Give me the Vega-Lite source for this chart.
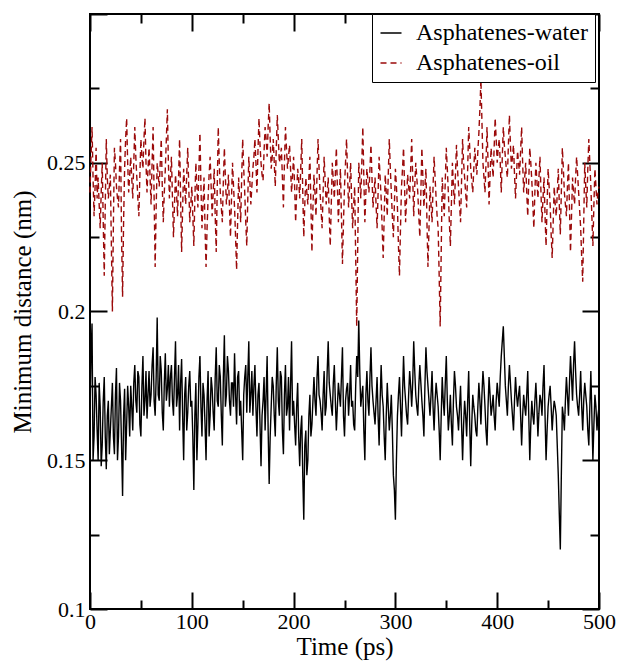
{
  "$schema": "https://vega.github.io/schema/vega-lite/v6.json",
  "width": 509,
  "height": 595,
  "autosize": {"type": "none"},
  "padding": {"left": 90, "top": 14, "right": 21, "bottom": 55},
  "background": "white",
  "config": {
    "font": "'Liberation Serif', 'DejaVu Serif', serif",
    "view": {"stroke": "black", "strokeWidth": 2},
    "axis": {
      "grid": false,
      "domain": false,
      "tickColor": "black",
      "tickWidth": 2,
      "labelColor": "black",
      "titleColor": "black",
      "labelFont": "'Liberation Serif', 'DejaVu Serif', serif",
      "titleFont": "'Liberation Serif', 'DejaVu Serif', serif",
      "labelFontSize": 22,
      "titleFontSize": 25,
      "titleFontWeight": "normal",
      "labelFlush": false,
      "labelOverlap": false
    },
    "legend": {
      "labelFont": "'Liberation Serif', 'DejaVu Serif', serif",
      "labelFontSize": 24,
      "labelColor": "black",
      "labelLimit": 400
    }
  },
  "data": {
    "values": [
      {"t":0,"water":0.165,"oil":0.240},{"t":2,"water":0.196,"oil":0.262},{"t":4,"water":0.158,"oil":0.232},{"t":6,"water":0.172,"oil":0.255},{"t":8,"water":0.150,"oil":0.245},{"t":10,"water":0.168,"oil":0.228},{"t":12,"water":0.155,"oil":0.250},{"t":14,"water":0.178,"oil":0.212},{"t":16,"water":0.147,"oil":0.258},{"t":18,"water":0.170,"oil":0.238},
      {"t":20,"water":0.160,"oil":0.246},{"t":22,"water":0.176,"oil":0.200},{"t":24,"water":0.152,"oil":0.255},{"t":26,"water":0.181,"oil":0.242},{"t":28,"water":0.158,"oil":0.235},{"t":30,"water":0.170,"oil":0.258},{"t":32,"water":0.138,"oil":0.205},{"t":34,"water":0.174,"oil":0.248},{"t":36,"water":0.162,"oil":0.265},{"t":38,"water":0.168,"oil":0.240},
      {"t":40,"water":0.175,"oil":0.252},{"t":42,"water":0.160,"oil":0.238},{"t":44,"water":0.182,"oil":0.262},{"t":46,"water":0.166,"oil":0.245},{"t":48,"water":0.178,"oil":0.232},{"t":50,"water":0.158,"oil":0.258},{"t":52,"water":0.185,"oil":0.248},{"t":54,"water":0.170,"oil":0.265},{"t":56,"water":0.164,"oil":0.240},{"t":58,"water":0.180,"oil":0.255},
      {"t":60,"water":0.172,"oil":0.236},{"t":62,"water":0.188,"oil":0.262},{"t":64,"water":0.165,"oil":0.215},{"t":66,"water":0.198,"oil":0.250},{"t":68,"water":0.170,"oil":0.242},{"t":70,"water":0.180,"oil":0.258},{"t":72,"water":0.160,"oil":0.230},{"t":74,"water":0.186,"oil":0.248},{"t":76,"water":0.174,"oil":0.268},{"t":78,"water":0.168,"oil":0.238},
      {"t":80,"water":0.182,"oil":0.252},{"t":82,"water":0.165,"oil":0.225},{"t":84,"water":0.190,"oil":0.246},{"t":86,"water":0.172,"oil":0.232},{"t":88,"water":0.160,"oil":0.258},{"t":90,"water":0.184,"oil":0.220},{"t":92,"water":0.150,"oil":0.248},{"t":94,"water":0.178,"oil":0.236},{"t":96,"water":0.166,"oil":0.255},{"t":98,"water":0.180,"oil":0.230},
      {"t":100,"water":0.170,"oil":0.242},{"t":102,"water":0.140,"oil":0.222},{"t":104,"water":0.176,"oil":0.250},{"t":106,"water":0.162,"oil":0.235},{"t":108,"water":0.185,"oil":0.260},{"t":110,"water":0.158,"oil":0.228},{"t":112,"water":0.172,"oil":0.245},{"t":114,"water":0.150,"oil":0.215},{"t":116,"water":0.180,"oil":0.238},{"t":118,"water":0.165,"oil":0.252},
      {"t":120,"water":0.174,"oil":0.232},{"t":122,"water":0.160,"oil":0.248},{"t":124,"water":0.188,"oil":0.220},{"t":126,"water":0.168,"oil":0.262},{"t":128,"water":0.178,"oil":0.240},{"t":130,"water":0.155,"oil":0.230},{"t":132,"water":0.192,"oil":0.255},{"t":134,"water":0.172,"oil":0.236},{"t":136,"water":0.180,"oil":0.246},{"t":138,"water":0.165,"oil":0.225},
      {"t":140,"water":0.176,"oil":0.250},{"t":142,"water":0.186,"oil":0.235},{"t":144,"water":0.162,"oil":0.214},{"t":146,"water":0.180,"oil":0.245},{"t":148,"water":0.170,"oil":0.230},{"t":150,"water":0.150,"oil":0.258},{"t":152,"water":0.178,"oil":0.240},{"t":154,"water":0.166,"oil":0.222},{"t":156,"water":0.190,"oil":0.252},{"t":158,"water":0.172,"oil":0.236},
      {"t":160,"water":0.165,"oil":0.248},{"t":162,"water":0.182,"oil":0.258},{"t":164,"water":0.158,"oil":0.240},{"t":166,"water":0.176,"oil":0.265},{"t":168,"water":0.148,"oil":0.250},{"t":170,"water":0.170,"oil":0.244},{"t":172,"water":0.160,"oil":0.262},{"t":174,"water":0.185,"oil":0.252},{"t":176,"water":0.142,"oil":0.270},{"t":178,"water":0.168,"oil":0.248},
      {"t":180,"water":0.175,"oil":0.258},{"t":182,"water":0.158,"oil":0.242},{"t":184,"water":0.188,"oil":0.266},{"t":186,"water":0.165,"oil":0.250},{"t":188,"water":0.178,"oil":0.255},{"t":190,"water":0.152,"oil":0.235},{"t":192,"water":0.182,"oil":0.262},{"t":194,"water":0.168,"oil":0.248},{"t":196,"water":0.160,"oil":0.256},{"t":198,"water":0.190,"oil":0.240},
      {"t":200,"water":0.170,"oil":0.252},{"t":202,"water":0.155,"oil":0.230},{"t":204,"water":0.176,"oil":0.248},{"t":206,"water":0.148,"oil":0.238},{"t":208,"water":0.165,"oil":0.258},{"t":210,"water":0.130,"oil":0.225},{"t":212,"water":0.160,"oil":0.245},{"t":214,"water":0.150,"oil":0.236},{"t":216,"water":0.172,"oil":0.252},{"t":218,"water":0.162,"oil":0.220},
      {"t":220,"water":0.178,"oil":0.246},{"t":222,"water":0.165,"oil":0.232},{"t":224,"water":0.185,"oil":0.258},{"t":226,"water":0.170,"oil":0.240},{"t":228,"water":0.160,"oil":0.228},{"t":230,"water":0.180,"oil":0.252},{"t":232,"water":0.168,"oil":0.236},{"t":234,"water":0.190,"oil":0.245},{"t":236,"water":0.172,"oil":0.222},{"t":238,"water":0.165,"oil":0.250},
      {"t":240,"water":0.182,"oil":0.238},{"t":242,"water":0.160,"oil":0.255},{"t":244,"water":0.176,"oil":0.230},{"t":246,"water":0.168,"oil":0.248},{"t":248,"water":0.188,"oil":0.216},{"t":250,"water":0.158,"oil":0.242},{"t":252,"water":0.174,"oil":0.258},{"t":254,"water":0.165,"oil":0.235},{"t":256,"water":0.182,"oil":0.250},{"t":258,"water":0.170,"oil":0.228},
      {"t":260,"water":0.160,"oil":0.242},{"t":262,"water":0.185,"oil":0.195},{"t":264,"water":0.197,"oil":0.250},{"t":266,"water":0.168,"oil":0.238},{"t":268,"water":0.175,"oil":0.262},{"t":270,"water":0.150,"oil":0.230},{"t":272,"water":0.180,"oil":0.248},{"t":274,"water":0.165,"oil":0.240},{"t":276,"water":0.188,"oil":0.256},{"t":278,"water":0.170,"oil":0.235},
      {"t":280,"water":0.162,"oil":0.245},{"t":282,"water":0.178,"oil":0.228},{"t":284,"water":0.155,"oil":0.252},{"t":286,"water":0.182,"oil":0.238},{"t":288,"water":0.168,"oil":0.218},{"t":290,"water":0.150,"oil":0.246},{"t":292,"water":0.176,"oil":0.232},{"t":294,"water":0.160,"oil":0.258},{"t":296,"water":0.172,"oil":0.240},{"t":298,"water":0.145,"oil":0.225},
      {"t":300,"water":0.130,"oil":0.248},{"t":302,"water":0.165,"oil":0.235},{"t":304,"water":0.178,"oil":0.212},{"t":306,"water":0.158,"oil":0.242},{"t":308,"water":0.185,"oil":0.255},{"t":310,"water":0.170,"oil":0.230},{"t":312,"water":0.162,"oil":0.246},{"t":314,"water":0.180,"oil":0.238},{"t":316,"water":0.168,"oil":0.258},{"t":318,"water":0.190,"oil":0.232},
      {"t":320,"water":0.172,"oil":0.250},{"t":322,"water":0.165,"oil":0.240},{"t":324,"water":0.182,"oil":0.225},{"t":326,"water":0.170,"oil":0.255},{"t":328,"water":0.158,"oil":0.235},{"t":330,"water":0.188,"oil":0.248},{"t":332,"water":0.175,"oil":0.215},{"t":334,"water":0.165,"oil":0.242},{"t":336,"water":0.180,"oil":0.230},{"t":338,"water":0.160,"oil":0.252},
      {"t":340,"water":0.176,"oil":0.238},{"t":342,"water":0.168,"oil":0.228},{"t":344,"water":0.150,"oil":0.195},{"t":346,"water":0.178,"oil":0.245},{"t":348,"water":0.165,"oil":0.232},{"t":350,"water":0.185,"oil":0.255},{"t":352,"water":0.160,"oil":0.240},{"t":354,"water":0.172,"oil":0.222},{"t":356,"water":0.155,"oil":0.250},{"t":358,"water":0.180,"oil":0.236},
      {"t":360,"water":0.168,"oil":0.256},{"t":362,"water":0.160,"oil":0.242},{"t":364,"water":0.175,"oil":0.230},{"t":366,"water":0.150,"oil":0.258},{"t":368,"water":0.170,"oil":0.245},{"t":370,"water":0.158,"oil":0.235},{"t":372,"water":0.180,"oil":0.262},{"t":374,"water":0.148,"oil":0.248},{"t":376,"water":0.172,"oil":0.240},{"t":378,"water":0.165,"oil":0.255},
      {"t":380,"water":0.158,"oil":0.246},{"t":382,"water":0.176,"oil":0.260},{"t":384,"water":0.162,"oil":0.278},{"t":386,"water":0.180,"oil":0.250},{"t":388,"water":0.168,"oil":0.240},{"t":390,"water":0.155,"oil":0.262},{"t":392,"water":0.178,"oil":0.236},{"t":394,"water":0.165,"oil":0.255},{"t":396,"water":0.172,"oil":0.245},{"t":398,"water":0.160,"oil":0.265},
      {"t":400,"water":0.176,"oil":0.250},{"t":402,"water":0.168,"oil":0.258},{"t":404,"water":0.185,"oil":0.240},{"t":406,"water":0.195,"oil":0.262},{"t":408,"water":0.175,"oil":0.252},{"t":410,"water":0.165,"oil":0.245},{"t":412,"water":0.182,"oil":0.266},{"t":414,"water":0.170,"oil":0.248},{"t":416,"water":0.160,"oil":0.256},{"t":418,"water":0.178,"oil":0.238},
      {"t":420,"water":0.168,"oil":0.254},{"t":422,"water":0.175,"oil":0.246},{"t":424,"water":0.155,"oil":0.262},{"t":426,"water":0.172,"oil":0.240},{"t":428,"water":0.165,"oil":0.250},{"t":430,"water":0.180,"oil":0.232},{"t":432,"water":0.150,"oil":0.255},{"t":434,"water":0.170,"oil":0.244},{"t":436,"water":0.162,"oil":0.228},{"t":438,"water":0.176,"oil":0.250},
      {"t":440,"water":0.158,"oil":0.238},{"t":442,"water":0.172,"oil":0.252},{"t":444,"water":0.165,"oil":0.230},{"t":446,"water":0.182,"oil":0.245},{"t":448,"water":0.150,"oil":0.222},{"t":450,"water":0.168,"oil":0.248},{"t":452,"water":0.175,"oil":0.236},{"t":454,"water":0.160,"oil":0.218},{"t":456,"water":0.170,"oil":0.242},{"t":458,"water":0.165,"oil":0.232},
      {"t":460,"water":0.145,"oil":0.248},{"t":462,"water":0.120,"oil":0.226},{"t":464,"water":0.168,"oil":0.255},{"t":466,"water":0.160,"oil":0.240},{"t":468,"water":0.178,"oil":0.232},{"t":470,"water":0.165,"oil":0.250},{"t":472,"water":0.185,"oil":0.220},{"t":474,"water":0.170,"oil":0.245},{"t":476,"water":0.190,"oil":0.236},{"t":478,"water":0.172,"oil":0.252},
      {"t":480,"water":0.165,"oil":0.240},{"t":482,"water":0.180,"oil":0.228},{"t":484,"water":0.160,"oil":0.210},{"t":486,"water":0.176,"oil":0.250},{"t":488,"water":0.168,"oil":0.235},{"t":490,"water":0.155,"oil":0.258},{"t":492,"water":0.180,"oil":0.242},{"t":494,"water":0.150,"oil":0.222},{"t":496,"water":0.172,"oil":0.248},{"t":498,"water":0.160,"oil":0.236},
      {"t":500,"water":0.168,"oil":0.242},
      {"t":1,"water":0.185,"oil":0.252},{"t":3,"water":0.150,"oil":0.245},{"t":5,"water":0.178,"oil":0.242},{"t":7,"water":0.160,"oil":0.238},{"t":9,"water":0.176,"oil":0.236},{"t":11,"water":0.148,"oil":0.240},{"t":13,"water":0.170,"oil":0.230},{"t":15,"water":0.158,"oil":0.236},{"t":17,"water":0.165,"oil":0.245},{"t":19,"water":0.152,"oil":0.242},
      {"t":21,"water":0.168,"oil":0.222},{"t":23,"water":0.158,"oil":0.230},{"t":25,"water":0.172,"oil":0.250},{"t":27,"water":0.150,"oil":0.238},{"t":29,"water":0.176,"oil":0.248},{"t":31,"water":0.155,"oil":0.225},{"t":33,"water":0.165,"oil":0.230},{"t":35,"water":0.150,"oil":0.258},{"t":37,"water":0.175,"oil":0.250},{"t":39,"water":0.158,"oil":0.246},
      {"t":41,"water":0.168,"oil":0.245},{"t":43,"water":0.176,"oil":0.250},{"t":45,"water":0.170,"oil":0.252},{"t":47,"water":0.180,"oil":0.238},{"t":49,"water":0.162,"oil":0.246},{"t":51,"water":0.175,"oil":0.252},{"t":53,"water":0.165,"oil":0.258},{"t":55,"water":0.180,"oil":0.250},{"t":57,"water":0.172,"oil":0.248},{"t":59,"water":0.168,"oil":0.245},
      {"t":61,"water":0.182,"oil":0.250},{"t":63,"water":0.170,"oil":0.238},{"t":65,"water":0.178,"oil":0.235},{"t":67,"water":0.172,"oil":0.246},{"t":69,"water":0.185,"oil":0.250},{"t":71,"water":0.166,"oil":0.242},{"t":73,"water":0.176,"oil":0.240},{"t":75,"water":0.170,"oil":0.258},{"t":77,"water":0.182,"oil":0.250},{"t":79,"water":0.178,"oil":0.245},
      {"t":81,"water":0.170,"oil":0.238},{"t":83,"water":0.178,"oil":0.236},{"t":85,"water":0.168,"oil":0.240},{"t":87,"water":0.182,"oil":0.245},{"t":89,"water":0.176,"oil":0.238},{"t":91,"water":0.165,"oil":0.235},{"t":93,"water":0.172,"oil":0.242},{"t":95,"water":0.160,"oil":0.246},{"t":97,"water":0.175,"oil":0.242},{"t":99,"water":0.168,"oil":0.236},
      {"t":101,"water":0.158,"oil":0.232},{"t":103,"water":0.165,"oil":0.238},{"t":105,"water":0.150,"oil":0.242},{"t":107,"water":0.178,"oil":0.248},{"t":109,"water":0.168,"oil":0.242},{"t":111,"water":0.176,"oil":0.236},{"t":113,"water":0.162,"oil":0.228},{"t":115,"water":0.170,"oil":0.228},{"t":117,"water":0.158,"oil":0.246},{"t":119,"water":0.178,"oil":0.242},
      {"t":121,"water":0.166,"oil":0.240},{"t":123,"water":0.178,"oil":0.232},{"t":125,"water":0.170,"oil":0.242},{"t":127,"water":0.182,"oil":0.250},{"t":129,"water":0.165,"oil":0.235},{"t":131,"water":0.178,"oil":0.244},{"t":133,"water":0.168,"oil":0.245},{"t":135,"water":0.185,"oil":0.240},{"t":137,"water":0.170,"oil":0.235},{"t":139,"water":0.176,"oil":0.238},
      {"t":141,"water":0.168,"oil":0.242},{"t":143,"water":0.172,"oil":0.225},{"t":145,"water":0.178,"oil":0.230},{"t":147,"water":0.165,"oil":0.238},{"t":149,"water":0.160,"oil":0.245},{"t":151,"water":0.172,"oil":0.248},{"t":153,"water":0.182,"oil":0.230},{"t":155,"water":0.178,"oil":0.238},{"t":157,"water":0.166,"oil":0.244},{"t":159,"water":0.180,"oil":0.242},
      {"t":161,"water":0.175,"oil":0.252},{"t":163,"water":0.168,"oil":0.250},{"t":165,"water":0.172,"oil":0.254},{"t":167,"water":0.162,"oil":0.256},{"t":169,"water":0.165,"oil":0.246},{"t":171,"water":0.178,"oil":0.254},{"t":173,"water":0.172,"oil":0.258},{"t":175,"water":0.160,"oil":0.262},{"t":177,"water":0.158,"oil":0.258},{"t":179,"water":0.178,"oil":0.252},
      {"t":181,"water":0.165,"oil":0.250},{"t":183,"water":0.176,"oil":0.255},{"t":185,"water":0.170,"oil":0.258},{"t":187,"water":0.180,"oil":0.252},{"t":189,"water":0.160,"oil":0.245},{"t":191,"water":0.172,"oil":0.250},{"t":193,"water":0.165,"oil":0.255},{"t":195,"water":0.178,"oil":0.252},{"t":197,"water":0.175,"oil":0.248},{"t":199,"water":0.165,"oil":0.246},
      {"t":201,"water":0.162,"oil":0.242},{"t":203,"water":0.168,"oil":0.240},{"t":205,"water":0.158,"oil":0.244},{"t":207,"water":0.160,"oil":0.248},{"t":209,"water":0.145,"oil":0.240},{"t":211,"water":0.155,"oil":0.236},{"t":213,"water":0.145,"oil":0.240},{"t":215,"water":0.165,"oil":0.245},{"t":217,"water":0.158,"oil":0.236},{"t":219,"water":0.170,"oil":0.235},
      {"t":221,"water":0.170,"oil":0.240},{"t":223,"water":0.178,"oil":0.246},{"t":225,"water":0.172,"oil":0.248},{"t":227,"water":0.166,"oil":0.234},{"t":229,"water":0.172,"oil":0.240},{"t":231,"water":0.165,"oil":0.244},{"t":233,"water":0.180,"oil":0.240},{"t":235,"water":0.176,"oil":0.232},{"t":237,"water":0.168,"oil":0.236},{"t":239,"water":0.176,"oil":0.244},
      {"t":241,"water":0.170,"oil":0.246},{"t":243,"water":0.168,"oil":0.242},{"t":245,"water":0.172,"oil":0.240},{"t":247,"water":0.178,"oil":0.232},{"t":249,"water":0.165,"oil":0.230},{"t":251,"water":0.170,"oil":0.250},{"t":253,"water":0.176,"oil":0.246},{"t":255,"water":0.172,"oil":0.242},{"t":257,"water":0.168,"oil":0.238},{"t":259,"water":0.162,"oil":0.236},
      {"t":261,"water":0.175,"oil":0.218},{"t":263,"water":0.178,"oil":0.222},{"t":265,"water":0.180,"oil":0.245},{"t":267,"water":0.172,"oil":0.250},{"t":269,"water":0.160,"oil":0.245},{"t":271,"water":0.172,"oil":0.240},{"t":273,"water":0.170,"oil":0.244},{"t":275,"water":0.178,"oil":0.248},{"t":277,"water":0.175,"oil":0.245},{"t":279,"water":0.166,"oil":0.240},
      {"t":281,"water":0.170,"oil":0.236},{"t":283,"water":0.165,"oil":0.240},{"t":285,"water":0.170,"oil":0.245},{"t":287,"water":0.172,"oil":0.228},{"t":289,"water":0.158,"oil":0.232},{"t":291,"water":0.165,"oil":0.240},{"t":293,"water":0.168,"oil":0.246},{"t":295,"water":0.165,"oil":0.248},{"t":297,"water":0.160,"oil":0.232},{"t":299,"water":0.140,"oil":0.236},
      {"t":301,"water":0.150,"oil":0.242},{"t":303,"water":0.172,"oil":0.222},{"t":305,"water":0.168,"oil":0.228},{"t":307,"water":0.172,"oil":0.248},{"t":309,"water":0.175,"oil":0.242},{"t":311,"water":0.165,"oil":0.238},{"t":313,"water":0.172,"oil":0.242},{"t":315,"water":0.175,"oil":0.248},{"t":317,"water":0.176,"oil":0.245},{"t":319,"water":0.180,"oil":0.242},
      {"t":321,"water":0.168,"oil":0.245},{"t":323,"water":0.175,"oil":0.232},{"t":325,"water":0.176,"oil":0.240},{"t":327,"water":0.165,"oil":0.245},{"t":329,"water":0.175,"oil":0.242},{"t":331,"water":0.180,"oil":0.230},{"t":333,"water":0.170,"oil":0.228},{"t":335,"water":0.172,"oil":0.236},{"t":337,"water":0.168,"oil":0.242},{"t":339,"water":0.170,"oil":0.245},
      {"t":341,"water":0.172,"oil":0.232},{"t":343,"water":0.160,"oil":0.212},{"t":345,"water":0.165,"oil":0.220},{"t":347,"water":0.170,"oil":0.238},{"t":349,"water":0.176,"oil":0.244},{"t":351,"water":0.170,"oil":0.248},{"t":353,"water":0.165,"oil":0.230},{"t":355,"water":0.162,"oil":0.236},{"t":357,"water":0.170,"oil":0.242},{"t":359,"water":0.175,"oil":0.246},
      {"t":361,"water":0.165,"oil":0.248},{"t":363,"water":0.168,"oil":0.236},{"t":365,"water":0.162,"oil":0.244},{"t":367,"water":0.162,"oil":0.250},{"t":369,"water":0.165,"oil":0.240},{"t":371,"water":0.170,"oil":0.248},{"t":373,"water":0.162,"oil":0.255},{"t":375,"water":0.162,"oil":0.244},{"t":377,"water":0.168,"oil":0.248},{"t":379,"water":0.160,"oil":0.250},
      {"t":381,"water":0.168,"oil":0.254},{"t":383,"water":0.170,"oil":0.268},{"t":385,"water":0.172,"oil":0.264},{"t":387,"water":0.175,"oil":0.245},{"t":389,"water":0.160,"oil":0.250},{"t":391,"water":0.168,"oil":0.250},{"t":393,"water":0.172,"oil":0.246},{"t":395,"water":0.168,"oil":0.250},{"t":397,"water":0.165,"oil":0.255},{"t":399,"water":0.170,"oil":0.258},
      {"t":401,"water":0.172,"oil":0.255},{"t":403,"water":0.178,"oil":0.250},{"t":405,"water":0.190,"oil":0.252},{"t":407,"water":0.185,"oil":0.256},{"t":409,"water":0.170,"oil":0.248},{"t":411,"water":0.175,"oil":0.256},{"t":413,"water":0.176,"oil":0.256},{"t":415,"water":0.165,"oil":0.252},{"t":417,"water":0.170,"oil":0.246},{"t":419,"water":0.172,"oil":0.246},
      {"t":421,"water":0.172,"oil":0.250},{"t":423,"water":0.165,"oil":0.254},{"t":425,"water":0.165,"oil":0.250},{"t":427,"water":0.168,"oil":0.245},{"t":429,"water":0.172,"oil":0.240},{"t":431,"water":0.165,"oil":0.244},{"t":433,"water":0.162,"oil":0.250},{"t":435,"water":0.165,"oil":0.236},{"t":437,"water":0.170,"oil":0.240},{"t":439,"water":0.168,"oil":0.244},
      {"t":441,"water":0.166,"oil":0.245},{"t":443,"water":0.170,"oil":0.240},{"t":445,"water":0.175,"oil":0.238},{"t":447,"water":0.165,"oil":0.232},{"t":449,"water":0.160,"oil":0.236},{"t":451,"water":0.172,"oil":0.242},{"t":453,"water":0.168,"oil":0.226},{"t":455,"water":0.166,"oil":0.230},{"t":457,"water":0.168,"oil":0.236},{"t":459,"water":0.155,"oil":0.240},
      {"t":461,"water":0.132,"oil":0.236},{"t":463,"water":0.145,"oil":0.240},{"t":465,"water":0.165,"oil":0.248},{"t":467,"water":0.170,"oil":0.236},{"t":469,"water":0.172,"oil":0.242},{"t":471,"water":0.176,"oil":0.235},{"t":473,"water":0.178,"oil":0.232},{"t":475,"water":0.182,"oil":0.240},{"t":477,"water":0.180,"oil":0.245},{"t":479,"water":0.168,"oil":0.246},
      {"t":481,"water":0.172,"oil":0.234},{"t":483,"water":0.168,"oil":0.218},{"t":485,"water":0.170,"oil":0.230},{"t":487,"water":0.172,"oil":0.242},{"t":489,"water":0.160,"oil":0.248},{"t":491,"water":0.168,"oil":0.250},{"t":493,"water":0.165,"oil":0.232},{"t":495,"water":0.162,"oil":0.236},{"t":497,"water":0.168,"oil":0.242},{"t":499,"water":0.165,"oil":0.240}
    ]
  },
  "transform": [{"fold": ["water", "oil"], "as": ["series", "d"]}],
  "layer": [
    {
      "mark": {"type": "line", "strokeWidth": 1.4},
      "encoding": {
        "x": {"field": "t", "type": "quantitative", "scale": {"domain": [0, 500], "nice": false},
          "axis": {"orient": "bottom", "values": [0, 100, 200, 300, 400, 500], "tickSize": -17, "labelPadding": 19, "title": "Time (ps)", "titlePadding": 2}},
        "y": {"field": "d", "type": "quantitative", "scale": {"domain": [0.1, 0.3], "nice": false, "zero": false},
          "axis": {"orient": "left", "values": [0.1, 0.15, 0.2, 0.25, 0.3], "format": ".2~f", "labelExpr": "datum.value > 0.29 ? '' : datum.label", "tickSize": -17, "labelPadding": 22, "title": "Minimum distance (nm)", "titlePadding": 11}},
        "color": {"field": "series", "type": "nominal",
          "scale": {"domain": ["water", "oil"], "range": ["black", "#9b0a0a"]},
          "legend": {"title": null, "orient": "none", "legendX": 282, "legendY": 0,
            "labelExpr": "datum.label == 'water' ? 'Asphatenes-water' : 'Asphatenes-oil'",
            "symbolType": "stroke", "symbolSize": 441, "symbolStrokeWidth": 1.5, "labelOffset": 13,
            "padding": 7, "rowPadding": 6, "strokeColor": "black", "fillColor": "white"}},
        "strokeDash": {"field": "series", "type": "nominal",
          "scale": {"domain": ["water", "oil"], "range": [[1, 0], [6, 4]]},
          "legend": {"title": null, "orient": "none", "legendX": 282, "legendY": 0,
            "labelExpr": "datum.label == 'water' ? 'Asphatenes-water' : 'Asphatenes-oil'",
            "symbolType": "stroke", "symbolSize": 441, "symbolStrokeWidth": 1.5, "labelOffset": 13,
            "padding": 7, "rowPadding": 6, "strokeColor": "black", "fillColor": "white"}}
      }
    },
    {
      "mark": {"type": "point", "opacity": 0, "size": 0},
      "encoding": {
        "x": {"field": "t", "type": "quantitative", "axis": {"orient": "top", "values": [0, 100, 200, 300, 400, 500], "tickSize": -17, "labels": false, "title": null}},
        "y": {"field": "d", "type": "quantitative", "axis": {"orient": "right", "values": [0.1, 0.15, 0.2, 0.25, 0.3], "tickSize": -17, "labels": false, "title": null}}
      }
    },
    {
      "mark": {"type": "point", "opacity": 0, "size": 0},
      "encoding": {
        "x": {"field": "t", "type": "quantitative", "axis": {"orient": "bottom", "values": [50, 150, 250, 350, 450], "tickSize": -9, "labels": false, "title": null}},
        "y": {"field": "d", "type": "quantitative", "axis": {"orient": "left", "values": [0.125, 0.175, 0.225, 0.275], "tickSize": -9, "labels": false, "title": null}}
      }
    },
    {
      "mark": {"type": "point", "opacity": 0, "size": 0},
      "encoding": {
        "x": {"field": "t", "type": "quantitative", "axis": {"orient": "top", "values": [50, 150, 250, 350, 450], "tickSize": -9, "labels": false, "title": null}},
        "y": {"field": "d", "type": "quantitative", "axis": {"orient": "right", "values": [0.125, 0.175, 0.225, 0.275], "tickSize": -9, "labels": false, "title": null}}
      }
    }
  ],
  "resolve": {"axis": {"x": "independent", "y": "independent"}}
}
